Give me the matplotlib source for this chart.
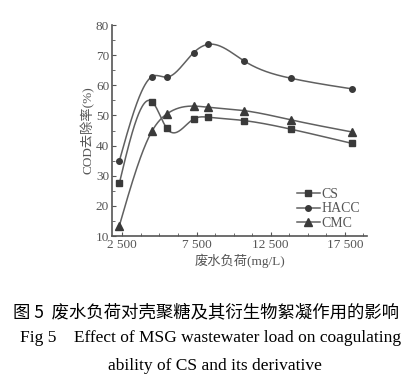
import numpy as np
import matplotlib.pyplot as plt
from matplotlib.ticker import MultipleLocator, FixedLocator

# data
load = [2300, 4500, 5500, 7300, 8300, 10700, 13900, 18000]
cs = [27.5, 54.6, 45.7, 48.8, 49.4, 48.3, 45.4, 40.7]
hacc = [34.9, 62.9, 62.7, 70.8, 73.6, 68.1, 62.3, 58.8]
cmc = [13.4, 44.8, 50.5, 53.1, 52.7, 51.6, 48.5, 44.5]
names = ["CS", "HACC", "CMC"]
markers = ["s", "o", "^"]
xticks = [2500, 7500, 12500, 17500]
xlabels = ["2 500", "7 500", "12 500", "17 500"]

serif = ["Liberation Serif", "Noto Sans CJK SC"]
grey = "#555555"


def smooth(x, y, n=400):
    # natural cubic spline, like the smoothed line of the original plot
    x = np.asarray(x, float)
    y = np.asarray(y, float)
    k = len(x)
    h = np.diff(x)
    A = np.zeros((k, k))
    r = np.zeros(k)
    A[0, 0] = A[-1, -1] = 1
    for i in range(1, k - 1):
        A[i, i - 1] = h[i - 1]
        A[i, i] = 2 * (h[i - 1] + h[i])
        A[i, i + 1] = h[i]
        r[i] = 6 * ((y[i + 1] - y[i]) / h[i] - (y[i] - y[i - 1]) / h[i - 1])
    M = np.linalg.solve(A, r)
    xs = np.linspace(x[0], x[-1], n)
    j = np.clip(np.searchsorted(x, xs) - 1, 0, k - 2)
    t0 = x[j + 1] - xs
    t1 = xs - x[j]
    hj = h[j]
    ys = (M[j] * t0 ** 3 + M[j + 1] * t1 ** 3) / (6 * hj) \
        + (y[j] / hj - M[j] * hj / 6) * t0 + (y[j + 1] / hj - M[j + 1] * hj / 6) * t1
    return xs, ys


fig = plt.figure(figsize=(4.13, 3.85), dpi=100)
ax = fig.add_axes([0.271, 0.387, 0.618, 0.548])

for vals, name, m in zip([cs, hacc, cmc], names, markers):
    ms = 5.5 if m == "^" else 4
    xs, ys = smooth(load, vals)
    ax.plot(xs, ys, color="#606060", lw=1.1)
    ax.plot(load, vals, ls="none", marker=m, ms=ms, color="#3a3a3a")
    ax.plot([], [], color="#606060", lw=1.1, marker=m, ms=ms,
            mfc="#3a3a3a", mec="#3a3a3a", label=name)

ax.set_xlim(1800, 19000)
ax.set_ylim(10, 80)
ax.xaxis.set_major_locator(FixedLocator(xticks))
ax.set_xticklabels(xlabels)
ax.xaxis.set_minor_locator(MultipleLocator(1250))
ax.yaxis.set_major_locator(MultipleLocator(10))
ax.yaxis.set_minor_locator(MultipleLocator(5))
ax.tick_params(which="both", direction="in", colors=grey, labelsize=9.5,
               pad=2)
ax.tick_params(which="major", length=3)
ax.tick_params(which="minor", length=2)
for lab in ax.get_xticklabels() + ax.get_yticklabels():
    lab.set_family(serif)
for s in ["top", "right"]:
    ax.spines[s].set_visible(False)
for s in ["left", "bottom"]:
    ax.spines[s].set_color(grey)
    ax.spines[s].set_linewidth(1.2)

ax.set_xlabel("废水负荷(mg/L)", family=serif, fontsize=9.5, color=grey, labelpad=2)
ax.set_ylabel("COD去除率(%)", family=serif, fontsize=9.5, color=grey, labelpad=1)

leg = ax.legend(loc="lower right", bbox_to_anchor=(1.0, -0.005), frameon=False,
                prop={"family": serif, "size": 10}, handlelength=1.6,
                handletextpad=0.15, labelspacing=0.12, borderpad=0)
for t in leg.get_texts():
    t.set_color(grey)

fig.text(0.5, 0.19, "图 5  废水负荷对壳聚糖及其衍生物絮凝作用的影响",
         ha="center", va="center", family=["Noto Sans CJK SC"], fontsize=12.5)
fig.text(0.51, 0.122, "Fig 5    Effect of MSG wastewater load on coagulating",
         ha="center", va="center", family=serif, fontsize=12.5)
fig.text(0.52, 0.05, "ability of CS and its derivative",
         ha="center", va="center", family=serif, fontsize=12.5)

fig.savefig("out.png", dpi=100)
